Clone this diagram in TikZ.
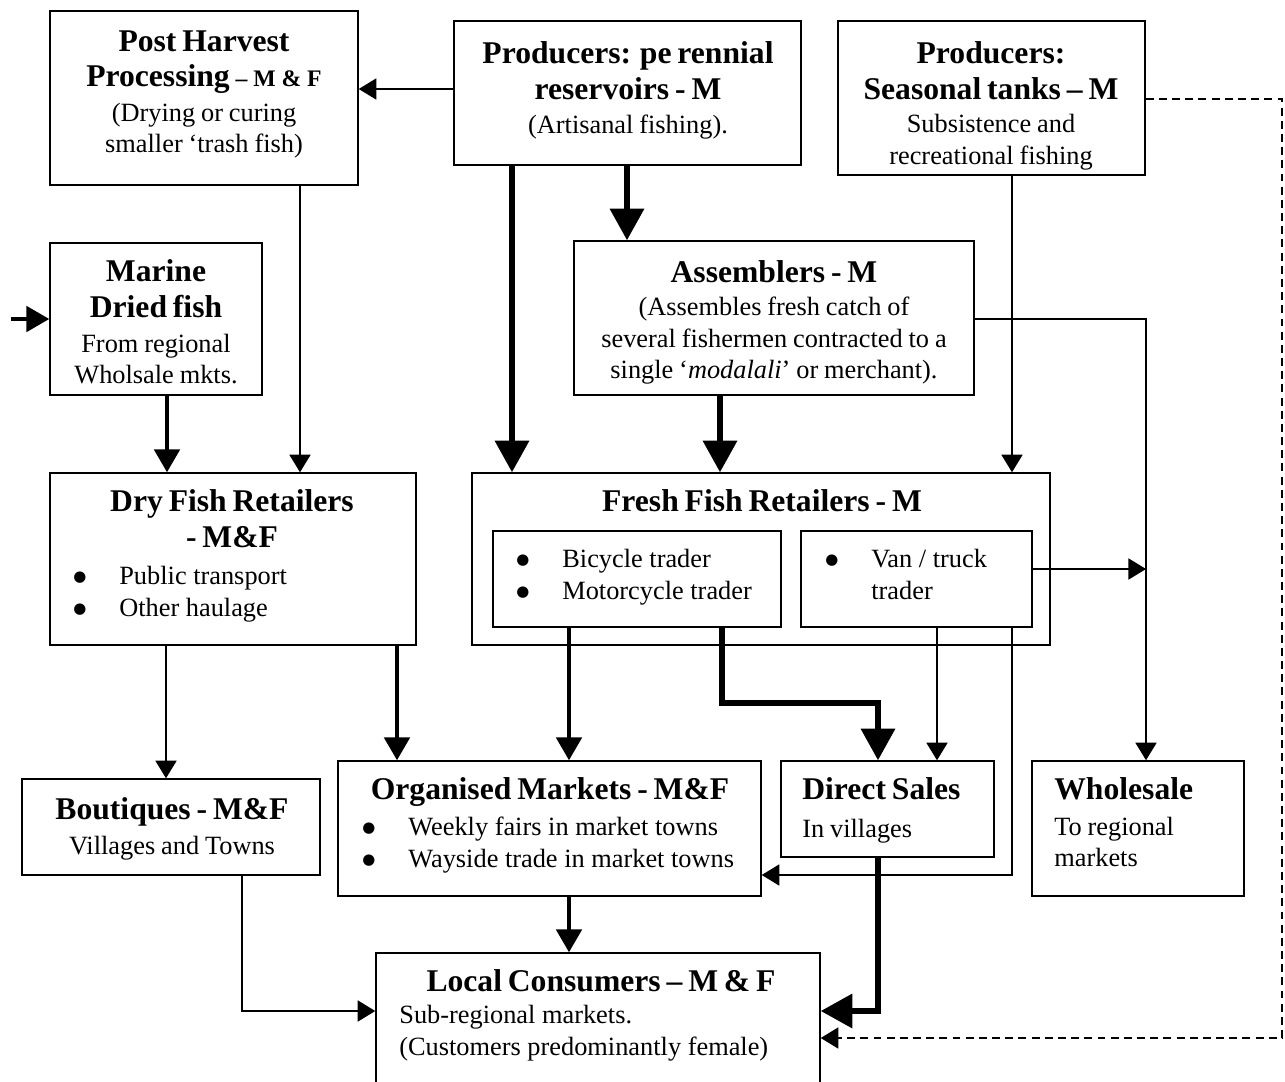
\documentclass[tikz,border=0pt]{standalone}
\usepackage{fontspec}
\setmainfont{Liberation Serif}
\newfontfamily\symfont{DejaVu Sans}
\usetikzlibrary{arrows.meta,fit}
\newcommand\hdfont{\fontsize{18}{20.4}\selectfont\bfseries}
\newcommand\bdfont{\fontsize{15}{18}\selectfont}
\newcommand\itm[1]{\makebox[0.92cm][l]{\raisebox{1.8pt}{\symfont\fontsize{8.5}{10}\selectfont ●}}#1}

\begin{document}
\begin{tikzpicture}[x=0.02cm,y=-0.02cm,
  box/.style={draw,line width=0.85pt,inner sep=0pt},
  ctr/.style={anchor=north,align=center,inner sep=0pt,text width=#1},
  lfp/.style={anchor=north west,align=left,inner sep=0pt,text width=#1},
  lft/.style={anchor=north west,align=left,inner sep=0pt,font=\bdfont},
  thn/.style={line width=0.85pt,-{Triangle[length=10pt,width=12pt]}},
  mdm/.style={line width=2pt,-{Triangle[length=13pt,width=14.5pt]}},
  thk/.style={line width=3.1pt,-{Triangle[length=18pt,width=19pt]}},
  dsh/.style={line width=0.85pt,dash pattern=on 4.5pt off 3pt,-{Triangle[length=10pt,width=12pt]}}]
\useasboundingbox (0,0) rectangle (1285,1082);
\clip (0,0) rectangle (1285,1082);
\node[box,fit={(50,11) (358,185)}] (phb) {};
\node[ctr=6cm] (phb-t) at (204,30) {{\hdfont Post Harvest\\ Processing {\fontsize{13.5}{15}\selectfont – M \& F}\par}\vspace{1.5pt}{\bdfont (Drying or curing\\ smaller ‘trash fish)\par}};
\node[box,fit={(454,21) (801,165)}] (ppr) {};
\node[ctr=6.8cm] (ppr-t) at (628,41) {{\hdfont Producers: pe rennial\\ reservoirs - M\par}\vspace{1.5pt}{\bdfont (Artisanal fishing).\par}};
\node[box,fit={(838,21) (1145,175)}] (psn) {};
\node[ctr=6cm] (psn-t) at (991,41) {{\hdfont Producers:\\ Seasonal tanks – M\par}\vspace{1pt}{\bdfont Subsistence and\\ recreational fishing\par}};
\node[box,fit={(50,243) (262,395)}] (mdf) {};
\node[ctr=4.2cm] (mdf-t) at (156,259) {{\hdfont Marine\\ Dried fish\par}\vspace{2pt}{\bdfont From regional\\ Wholsale mkts.\par}};
\node[box,fit={(574,241) (974,395)}] (asm) {};
\node[ctr=7.8cm] (asm-t) at (774,260) {{\hdfont Assemblers - M\par}\vspace{1pt}{\bdfont (Assembles fresh catch of\\ several fishermen contracted to a\\ single ‘\textit{modalali}’ or merchant).\par}};
\node[box,fit={(50,473) (416,645)}] (dfr) {};
\node[ctr=7cm] (dfr-t) at (232,489) {{\hdfont Dry Fish Retailers\\ - M\&F\par}};
\node[lft] (dfr-l) at (73,566) {\itm{Public transport}\\ \itm{Other haulage}};
\node[box,fit={(472,473) (1050,645)}] (ffr) {};
\node[ctr=11cm] (ffr-t) at (762,489) {{\hdfont Fresh Fish Retailers - M\par}};
\node[box,fit={(493,531) (781,627)}] (bmt) {};
\node[lft] (bmt-l) at (516,549) {\itm{Bicycle trader}\\ \itm{Motorcycle trader}};
\node[box,fit={(801,531) (1032,627)}] (vtt) {};
\node[lft] (vtt-l) at (825,549) {\itm{Van / truck}\\ \makebox[0.92cm]{}trader};
\node[box,fit={(22,779) (320,875)}] (btq) {};
\node[ctr=5.8cm] (btq-t) at (172,797) {{\hdfont Boutiques - M\&F\par}\vspace{2pt}{\bdfont Villages and Towns\par}};
\node[box,fit={(338,761) (761,896)}] (orm) {};
\node[ctr=8.2cm] (orm-t) at (550,777) {{\hdfont Organised Markets - M\&F\par}};
\node[lft] (orm-l) at (362,817) {\itm{Weekly fairs in market towns}\\ \itm{Wayside trade in market towns}};
\node[box,fit={(781,761) (994,857)}] (dsl) {};
\node[lfp=4cm] (dsl-t) at (802,777) {{\hdfont Direct Sales\par}\vspace{4pt}{\bdfont In villages\par}};
\node[box,fit={(1032,761) (1244,896)}] (whs) {};
\node[lfp=4cm] (whs-t) at (1054,777) {{\hdfont Wholesale\par}\vspace{2.5pt}{\bdfont To regional\\ markets\par}};
\node[box,fit={(376,953) (820,1120)}] (lcn) {};
\node[ctr=8.6cm] (lcn-t) at (601,969) {{\hdfont Local Consumers – M \& F\par}};
\node[lft] (lcn-l) at (399,1005) {Sub-regional markets.\\ (Customers predominantly female)};
\coordinate (inm) at (11,319);
\coordinate (yA) at (0,89);
\coordinate (yB) at (0,319);
\coordinate (yT) at (0,569);
\coordinate (yL) at (0,703);
\coordinate (yP) at (0,875);
\coordinate (yQ) at (0,1011);
\coordinate (yR) at (0,99);
\coordinate (yS) at (0,1038);
\coordinate (xA) at (512,0);
\coordinate (xB) at (627,0);
\coordinate (xC) at (1012,0);
\coordinate (xD) at (720,0);
\coordinate (xE) at (1146,0);
\coordinate (xF) at (167,0);
\coordinate (xG) at (300,0);
\coordinate (xI) at (166,0);
\coordinate (xJ) at (397,0);
\coordinate (xK) at (569,0);
\coordinate (xL) at (722,0);
\coordinate (xM) at (878,0);
\coordinate (xN) at (937,0);
\coordinate (xQ) at (242,0);
\coordinate (xR) at (1282,0);
\coordinate (wjn) at (xE |- yT);
\draw[thn] (ppr.west |- yA) -- (phb.east |- yA);
\draw[thk] (ppr.south -| xA) -- (ffr.north -| xA);
\draw[thk] (ppr.south -| xB) -- (asm.north -| xB);
\draw[thn] (psn.south -| xC) -- (ffr.north -| xC);
\draw[thk] (asm.south -| xD) -- (ffr.north -| xD);
\draw[thn] (asm.east |- yB) -| (whs.north -| xE);
\draw[thn] (vtt.east |- yT) -- (wjn);
\draw[mdm] (inm) -- (mdf.west |- inm);
\draw[mdm] (mdf.south -| xF) -- (dfr.north -| xF);
\draw[thn] (phb.south -| xG) -- (dfr.north -| xG);
\draw[thn] (dfr.south -| xI) -- (btq.north -| xI);
\draw[mdm] (dfr.south -| xJ) -- (orm.north -| xJ);
\draw[mdm] (bmt.south -| xK) -- (orm.north -| xK);
\draw[thk] (bmt.south -| xL) |- (xM |- yL) -- (dsl.north -| xM);
\draw[thn] (vtt.south -| xN) -- (dsl.north -| xN);
\draw[thn] (vtt.south -| xC) |- (orm.east |- yP);
\draw[mdm] (orm.south -| xK) -- (lcn.north -| xK);
\draw[thn] (btq.south -| xQ) |- (lcn.west |- yQ);
\draw[thk] (dsl.south -| xM) |- (lcn.east |- yQ);
\draw[dsh] (psn.east |- yR) -| (xR |- yS) -- (lcn.east |- yS);
\end{tikzpicture}
\end{document}
